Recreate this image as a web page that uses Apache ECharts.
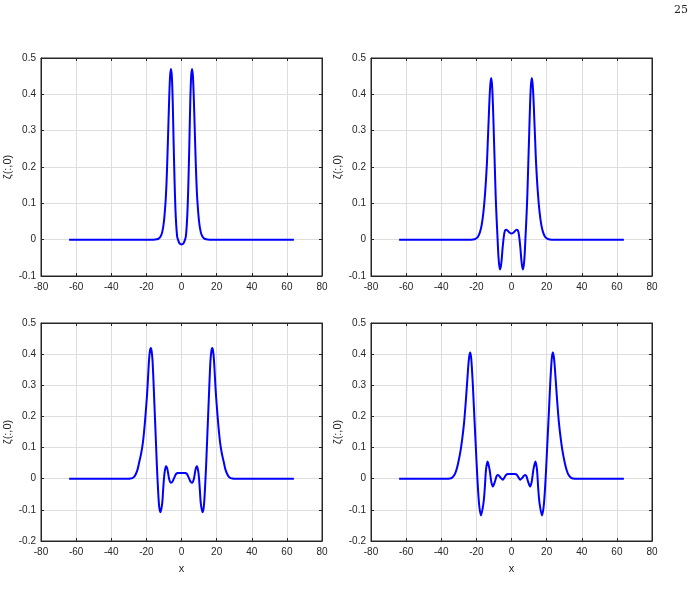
<!DOCTYPE html>
<html>
<head>
<meta charset="utf-8">
<script src="https://cdn.jsdelivr.net/npm/echarts@6/dist/echarts.min.js"></script>
<style>
  html, body { margin: 0; padding: 0; background: #fff; }
  #chart { width: 696px; height: 608px; }
</style>
</head>
<body>
<div id="chart"></div>
<script>
// values, [x, zeta]
const wave1 = [
  [-64, 0], [-20, 0], [-16, 0], [-14, 0.001], [-13, 0.003], [-12, 0.008], [-11, 0.02], [-10, 0.05],
  [-9, 0.11], [-8.5, 0.16], [-8, 0.23], [-7.5, 0.31], [-7, 0.39], [-6.5, 0.45], [-6, 0.47],
  [-5.5, 0.45], [-5, 0.38], [-4.5, 0.27], [-4, 0.17], [-3.5, 0.09], [-3, 0.04], [-2.5, 0.01],
  [-2, 0], [-1, -0.011], [0, -0.013], [1, -0.011], [2, 0], [2.5, 0.01], [3, 0.04], [3.5, 0.09],
  [4, 0.17], [4.5, 0.27], [5, 0.38], [5.5, 0.45], [6, 0.47], [6.5, 0.45], [7, 0.39], [7.5, 0.31],
  [8, 0.23], [8.5, 0.16], [9, 0.11], [10, 0.05], [11, 0.02], [12, 0.008], [13, 0.003],
  [14, 0.001], [16, 0], [20, 0], [64, 0]
];

const wave2 = [
  [-64, 0], [-27, 0], [-23, 0], [-21, 0.001], [-20, 0.004], [-19, 0.009], [-18, 0.02], [-17, 0.04],
  [-16, 0.075], [-15, 0.13], [-14, 0.21], [-13.5, 0.27], [-13, 0.33], [-12.5, 0.39], [-12, 0.43],
  [-11.5, 0.445], [-11, 0.42], [-10.5, 0.36], [-10, 0.28], [-9.5, 0.2], [-9, 0.12], [-8.5, 0.06],
  [-8, 0.01], [-7.5, -0.04], [-7, -0.07], [-6.4, -0.082], [-5.7, -0.06], [-5, -0.02], [-4, 0.02],
  [-3, 0.027], [-2, 0.024], [-1, 0.019], [0, 0.017], [1, 0.019], [2, 0.024], [3, 0.027], [4, 0.02],
  [5, -0.02], [5.7, -0.06], [6.4, -0.082], [7, -0.07], [7.5, -0.04], [8, 0.01], [8.5, 0.06],
  [9, 0.12], [9.5, 0.2], [10, 0.28], [10.5, 0.36], [11, 0.42], [11.5, 0.445], [12, 0.43],
  [12.5, 0.39], [13, 0.33], [13.5, 0.27], [14, 0.21], [15, 0.13], [16, 0.075], [17, 0.04],
  [18, 0.02], [19, 0.009], [20, 0.004], [21, 0.001], [23, 0], [27, 0], [64, 0]
];

const wave3 = [
  [-64, 0], [-34, 0], [-30, 0], [-29, 0.0005], [-28, 0.002], [-27, 0.006], [-26, 0.015], [-25, 0.03],
  [-24, 0.055], [-23, 0.08], [-22, 0.115], [-21, 0.17], [-20, 0.24], [-19.5, 0.28], [-19, 0.33],
  [-18.5, 0.38], [-18, 0.41], [-17.5, 0.42], [-17, 0.41], [-16.5, 0.38], [-16, 0.32], [-15.5, 0.25],
  [-15, 0.18], [-14.5, 0.11], [-14, 0.04], [-13.3, -0.04], [-12.7, -0.09], [-12, -0.108],
  [-11, -0.08], [-10.5, -0.04], [-10, 0], [-9.5, 0.025], [-8.8, 0.04], [-8, 0.03], [-7, -0.002],
  [-6, -0.013], [-5, -0.008], [-4, 0.005], [-3, 0.016], [-2, 0.018], [0, 0.018], [2, 0.018],
  [3, 0.016], [4, 0.005], [5, -0.008], [6, -0.013], [7, -0.002], [8, 0.03], [8.8, 0.04],
  [9.5, 0.025], [10, 0], [10.5, -0.04], [11, -0.08], [12, -0.108], [12.7, -0.09], [13.3, -0.04],
  [14, 0.04], [14.5, 0.11], [15, 0.18], [15.5, 0.25], [16, 0.32], [16.5, 0.38], [17, 0.41],
  [17.5, 0.42], [18, 0.41], [18.5, 0.38], [19, 0.33], [19.5, 0.28], [20, 0.24], [21, 0.17],
  [22, 0.115], [23, 0.08], [24, 0.055], [25, 0.03], [26, 0.015], [27, 0.006], [28, 0.002],
  [29, 0.0005], [30, 0], [34, 0], [64, 0]
];

const wave4 = [
  [-64, 0], [-41, 0], [-37, 0], [-35, 0.001], [-34, 0.003], [-33, 0.008], [-32, 0.018], [-31, 0.035],
  [-30, 0.06], [-29, 0.09], [-28, 0.13], [-27, 0.18], [-26, 0.25], [-25.5, 0.29], [-25, 0.33],
  [-24.5, 0.37], [-24, 0.395], [-23.5, 0.405], [-23, 0.39], [-22.5, 0.35], [-22, 0.3], [-21.5, 0.24],
  [-21, 0.18], [-20.3, 0.1], [-19.7, 0.03], [-19, -0.04], [-18.3, -0.09], [-17.4, -0.118],
  [-16, -0.08], [-15.2, -0.03], [-14.5, 0.03], [-13.6, 0.055], [-12.5, 0.03], [-11.5, -0.01],
  [-10.6, -0.025], [-9.5, -0.01], [-8.5, 0.008], [-7.8, 0.012], [-7, 0.009], [-6, 0.002],
  [-5, -0.003], [-4, 0.004], [-3, 0.013], [-2, 0.015], [0, 0.015], [2, 0.015], [3, 0.013],
  [4, 0.004], [5, -0.003], [6, 0.002], [7, 0.009], [7.8, 0.012], [8.5, 0.008], [9.5, -0.01],
  [10.6, -0.025], [11.5, -0.01], [12.5, 0.03], [13.6, 0.055], [14.5, 0.03], [15.2, -0.03],
  [16, -0.08], [17.4, -0.118], [18.3, -0.09], [19, -0.04], [19.7, 0.03], [20.3, 0.1], [21, 0.18],
  [21.5, 0.24], [22, 0.3], [22.5, 0.35], [23, 0.39], [23.5, 0.405], [24, 0.395], [24.5, 0.37],
  [25, 0.33], [25.5, 0.29], [26, 0.25], [27, 0.18], [28, 0.13], [29, 0.09], [30, 0.06],
  [31, 0.035], [32, 0.018], [33, 0.008], [34, 0.003], [35, 0.001], [37, 0], [41, 0], [64, 0]
];

const xRange = [-80, 80];
const yRangeTop = [-0.1, 0.5];
const yRangeBottom = [-0.2, 0.5];
const yName = 'ζ(:,0)';
const xName = 'x';

const panels = [
  { data: wave1, y: yRangeTop, left: 41, top: 58, xName: '' },
  { data: wave2, y: yRangeTop, left: 371, top: 58, xName: '' },
  { data: wave3, y: yRangeBottom, left: 41, top: 323, xName: xName },
  { data: wave4, y: yRangeBottom, left: 371, top: 323, xName: xName }
];

const ink = '#262626';
const font = { fontFamily: 'Liberation Sans', fontSize: 10, color: ink };

const grid = [], xAxis = [], yAxis = [], series = [];
panels.forEach((p, i) => {
  grid.push({
    left: p.left, top: p.top, width: 281, height: 218,
    show: true, borderColor: ink, borderWidth: 1, backgroundColor: '#fff'
  });
  // main axes (bottom / left)
  xAxis.push({
    type: 'value', gridIndex: i, min: xRange[0], max: xRange[1], interval: 20,
    position: 'bottom',
    name: p.xName, nameLocation: 'middle', nameGap: 22,
    nameTextStyle: Object.assign({}, font, { fontSize: 11 }),
    axisLine: { show: true, onZero: false, lineStyle: { color: ink } },
    axisTick: { show: true, inside: true, length: 3, lineStyle: { color: ink } },
    axisLabel: Object.assign({ margin: 6 }, font),
    splitLine: { show: true, lineStyle: { color: '#dedede', width: 1 } }
  });
  yAxis.push({
    type: 'value', gridIndex: i, min: p.y[0], max: p.y[1], interval: 0.1,
    position: 'left',
    name: yName, nameLocation: 'middle', nameGap: 28, nameRotate: 90,
    nameTextStyle: Object.assign({}, font, { fontSize: 11 }),
    axisLine: { show: true, onZero: false, lineStyle: { color: ink } },
    axisTick: { show: true, inside: true, length: 3, lineStyle: { color: ink } },
    axisLabel: Object.assign({ margin: 5, formatter: v => String(+v.toFixed(1)) }, font),
    splitLine: { show: true, lineStyle: { color: '#dedede', width: 1 } }
  });
  series.push({
    type: 'line', xAxisIndex: i, yAxisIndex: i, data: p.data,
    showSymbol: false, smooth: 0.3,
    lineStyle: { color: '#0000ff', width: 2 }, z: 5
  });
});

// box ticks on top / right
panels.forEach((p, i) => {
  xAxis.push({
    type: 'value', gridIndex: i, min: xRange[0], max: xRange[1], interval: 20,
    position: 'top',
    axisLine: { show: true, onZero: false, lineStyle: { color: ink } },
    axisTick: { show: true, inside: true, length: 3, lineStyle: { color: ink } },
    axisLabel: { show: false }, splitLine: { show: false }
  });
  yAxis.push({
    type: 'value', gridIndex: i, min: p.y[0], max: p.y[1], interval: 0.1,
    position: 'right',
    axisLine: { show: true, onZero: false, lineStyle: { color: ink } },
    axisTick: { show: true, inside: true, length: 3, lineStyle: { color: ink } },
    axisLabel: { show: false }, splitLine: { show: false }
  });
});

const chart = echarts.init(document.getElementById('chart'), null, { renderer: 'canvas' });
chart.setOption({
  animation: false,
  backgroundColor: '#fff',
  grid: grid,
  xAxis: xAxis,
  yAxis: yAxis,
  series: series,
  graphic: [{
    type: 'text', left: 674, top: 5,
    style: { text: '25', font: '11px "DejaVu Serif"', fill: '#222' }
  }]
});
</script>
</body>
</html>
